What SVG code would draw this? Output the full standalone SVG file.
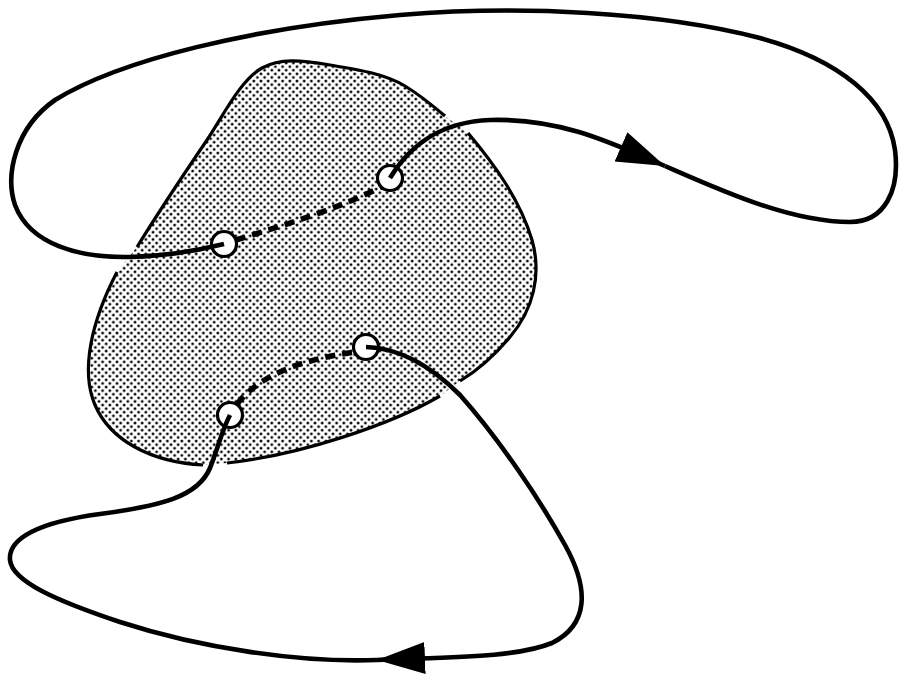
<svg xmlns="http://www.w3.org/2000/svg" width="906" height="675" viewBox="0 0 906 675">
<defs>
<pattern id="dots" width="7.2" height="7.2" patternUnits="userSpaceOnUse">
<circle cx="1.8" cy="1.8" r="1.4" fill="#000"/>
<circle cx="5.4" cy="5.4" r="1.4" fill="#000"/>
</pattern>
<marker id="arrow" markerUnits="userSpaceOnUse" markerWidth="52" markerHeight="34" refX="48" refY="16" orient="auto" viewBox="0 0 52 34">
<path d="M0,0 L48,16 L0,32 Z" fill="#000"/>
</marker>
<style>
.edge{fill:none;stroke:#000;stroke-width:3.2;stroke-linecap:butt}
.curve{fill:none;stroke:#000;stroke-width:4.6;stroke-linecap:butt}
.dash{fill:none;stroke:#000;stroke-width:5.5;stroke-dasharray:10 7}
.hole{fill:#fff;stroke:#000;stroke-width:3.2}
</style>
</defs>
<rect width="906" height="675" fill="#fff"/>
<g id="region">
<path fill="url(#dots)" d="M 137,247 C 160,210 190,165 207,140 C 222,118 240,80 262,68 C 280,58 300,60 330,65 C 360,70 385,74 405,86 C 420,95 432,105 445,116 L 468,133 C 495,165 520,200 532,240 C 542,275 533,310 510,337 C 495,355 478,370 460,381 L 440,396 C 390,425 300,455 227,463 L 203,465 C 150,462 110,440 95,405 C 80,370 92,320 117,272 Z"/>
<path class="edge" d="M 137,247 C 160,210 190,165 207,140 C 222,118 240,80 262,68 C 280,58 300,60 330,65 C 360,70 385,74 405,86 C 420,95 432,105 445,116"/>
<path class="edge" d="M 468,133 C 495,165 520,200 532,240 C 542,275 533,310 510,337 C 495,355 478,370 460,381"/>
<path class="edge" d="M 440,396 C 390,425 300,455 227,463"/>
<path class="edge" d="M 203,465 C 150,462 110,440 95,405 C 80,370 92,320 117,272"/>
</g>
<g id="hole-a"><circle class="hole" cx="224" cy="244" r="12.5"/></g>
<g id="hole-b"><circle class="hole" cx="390" cy="178" r="12.5"/></g>
<g id="hole-c"><circle class="hole" cx="366" cy="347" r="12.5"/></g>
<g id="hole-d"><circle class="hole" cx="230" cy="415" r="12.5"/></g>
<g id="connectors">
<path class="dash" d="M 236,240 C 285,225 340,208 381,187"/>
<path class="dash" d="M 237,404 C 260,375 300,360 355,352"/>
<path class="curve" marker-end="url(#arrow)" d="M 390,178 C 410,145 440,122 490,120 C 560,118 610,142 665,166"/>
<path class="curve" d="M 665,166 C 720,190 790,222 850,222 C 885,222 900,190 895,150 C 888,100 840,60 760,38 C 660,12 520,5 400,15 C 250,28 120,60 55,100 C 15,128 5,175 15,205 C 30,245 80,258 130,257 C 170,256 200,250 224,244"/>
<path class="curve" marker-end="url(#arrow)" d="M 366,347 C 400,348 430,365 460,395 C 500,440 540,500 565,545 C 590,590 588,625 552,643 C 515,658 450,657 377,660"/>
<path class="curve" d="M 377,660 C 300,663 200,648 120,622 C 60,602 12,582 10,560 C 8,538 40,522 100,514 C 160,506 198,497 210,468 C 218,448 222,430 230,415"/>
</g>
</svg>
